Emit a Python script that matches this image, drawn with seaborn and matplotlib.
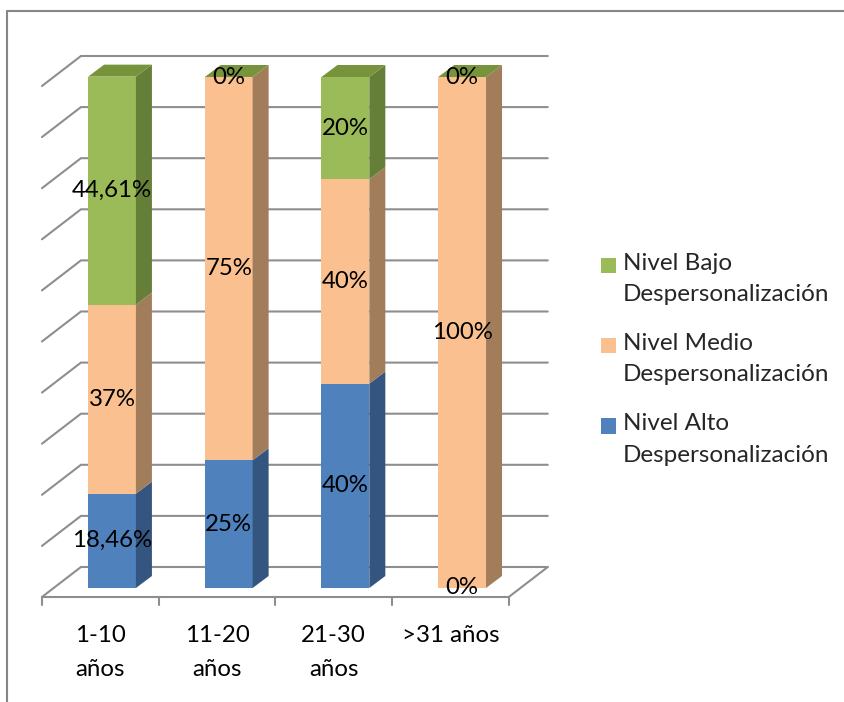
import matplotlib
matplotlib.use("Agg")
import matplotlib.pyplot as plt
from matplotlib.patches import Polygon, Rectangle, Patch
from matplotlib.lines import Line2D
from matplotlib.legend_handler import HandlerBase
import numpy as np
import pandas as pd
import seaborn as sns

# ---- data -------------------------------------------------------------
categories = ["1-10\naños", "11-20\naños", "21-30\naños", ">31 años"]
nivel_alto = [18.46, 25, 40, 0]
nivel_medio = [37, 75, 40, 100]
nivel_bajo = [44.61, 0, 20, 0]
series_names = ["Nivel Alto\nDespersonalización",
                "Nivel Medio\nDespersonalización",
                "Nivel Bajo\nDespersonalización"]
series_values = [nivel_alto, nivel_medio, nivel_bajo]

# ---- style ------------------------------------------------------------
front_col = ["#4F81BD", "#FAC090", "#9BBB59"]
side_col = ["#34557F", "#A27D5C", "#657F38"]
top_col = "#77933C"
grid_col = "#8E8E8E"
label_fs = 17.3

sns.set_theme(style="white")
plt.rcParams["font.family"] = ["Lato", "DejaVu Sans"]

# pixel scale of the data axes (px per unit)
XS, YS = 116.7, 5.11
W_PX, H_PX = 845, 702
X0_PX, Y0_PX = 112, 588          # pixel of category 0, value 0 (front plane)

# depth offsets (data units)
BAR_DX, BAR_DY = 16 / XS, 12 / YS          # bar side/top depth
FLOOR_FRONT = (-11.7 / XS, -9 / YS)        # floor front edge from bar plane
FLOOR_DEPTH = (39 / XS, 30 / YS)           # floor front -> back wall

fig = plt.figure(figsize=(W_PX / 100, H_PX / 100), dpi=100)
ax = fig.add_axes([0, 0, 1, 1])

df = pd.DataFrame({
    "cat": categories * 3,
    "serie": np.repeat(series_names, len(categories)),
    "valor": np.concatenate(series_values),
})
df["top"] = df.groupby("cat", sort=False)["valor"].cumsum()
df["base"] = df["top"] - df["valor"]

# front faces: cumulative bars drawn from the top series down
bar_x = None
for i in reversed(range(len(series_names))):
    sub = df[df.serie == series_names[i]]
    n_before = len(ax.patches)
    sns.barplot(data=sub, x="cat", y="top", order=categories, color=front_col[i],
                saturation=1, width=0.41, errorbar=None, linewidth=0, ax=ax, zorder=3)
    if bar_x is None:
        bar_x = [(p.get_x(), p.get_x() + p.get_width()) for p in ax.patches[n_before:]]

# side faces of every segment and the top face of each column
for i, name in enumerate(series_names):
    sub = df[df.serie == name].reset_index(drop=True)
    for k, row in sub.iterrows():
        xl, xr = bar_x[k]
        b, t = row["base"], row["top"]
        ax.add_patch(Polygon([(xr, b), (xr + BAR_DX, b + BAR_DY), (xr + BAR_DX, t + BAR_DY), (xr, t)],
                             closed=True, facecolor=side_col[i], edgecolor="none", zorder=3))
totals = df.groupby("cat", sort=False)["top"].max().reindex(categories).values
for k, T in enumerate(totals):
    xl, xr = bar_x[k]
    ax.add_patch(Polygon([(xl, T), (xl + BAR_DX, T + BAR_DY), (xr + BAR_DX, T + BAR_DY), (xr, T)],
                         closed=True, facecolor=top_col, edgecolor="none", zorder=3))

# walls: back gridlines, left diagonals, floor
n = len(categories)
fx0 = -0.5 + FLOOR_FRONT[0]
fx1 = n - 0.5 + FLOOR_FRONT[0]
fy = FLOOR_FRONT[1]
bx0, bx1 = fx0 + FLOOR_DEPTH[0], fx1 + FLOOR_DEPTH[0]
by = fy + FLOOR_DEPTH[1]
for g in range(0, 101, 10):
    ax.plot([fx0, bx0, bx1], [fy + g, by + g, by + g], color=grid_col, lw=1.5,
            solid_joinstyle="miter", zorder=1)
ax.plot([fx0, fx1, bx1], [fy, fy, by], color=grid_col, lw=1.5, zorder=2,
        solid_joinstyle="miter")
for k in range(n + 1):
    ax.plot([fx0 + k, fx0 + k], [fy, fy - 8 / YS], color=grid_col, lw=1.5, zorder=2)

# category labels under the floor
for k, cat in enumerate(categories):
    ax.text(k + FLOOR_FRONT[0], fy - 28 / YS, cat, ha="center", va="top",
            fontsize=label_fs, color="black", linespacing=1.75)

# value labels centered on each segment
def fmt(v):
    return ("%g" % v).replace(".", ",") + "%"

for i, name in enumerate(series_names):
    sub = df[df.serie == name].reset_index(drop=True)
    for k, row in sub.iterrows():
        ax.text(k, (row["base"] + row["top"]) / 2, fmt(row["valor"]), ha="center",
                va="center", fontsize=label_fs, color="black", zorder=5)

ax.set_xlim((0 - X0_PX) / XS, (W_PX - X0_PX) / XS)
ax.set_ylim((Y0_PX - H_PX) / YS, Y0_PX / YS)
ax.axis("off")


# legend with the colour square beside the first text line
class FirstLineSquare(HandlerBase):
    def __init__(self, lift):
        super().__init__()
        self.lift = lift

    def create_artists(self, legend, orig_handle, xdescent, ydescent, width, height,
                       fontsize, trans):
        r = Rectangle((-xdescent, -ydescent + self.lift), width, height,
                      facecolor=orig_handle.get_facecolor(), edgecolor="none",
                      transform=trans)
        return [r]


leg_fs = 17.5
fs_px = leg_fs * 100 / 72
handles = [Patch(facecolor=front_col[i]) for i in reversed(range(3))]
labels = [series_names[i] for i in reversed(range(3))]
hmap = {h: FirstLineSquare(lift=9.8) for h in handles}
leg = fig.legend(handles, labels, loc="upper left",
                 bbox_to_anchor=(601 / W_PX, 1 - 253 / H_PX), frameon=False,
                 fontsize=leg_fs, handlelength=15 / fs_px, handleheight=15 / fs_px,
                 handletextpad=7 / fs_px, labelspacing=1.15, borderpad=0,
                 borderaxespad=0, handler_map=hmap)
for t in leg.get_texts():
    t.set_linespacing(1.6)

# chart border (open to the right and bottom)
fig.add_artist(Line2D([7 / W_PX, 1.0], [1 - 11 / H_PX, 1 - 11 / H_PX],
                      transform=fig.transFigure, color="#868686", lw=1.5))
fig.add_artist(Line2D([7 / W_PX, 7 / W_PX], [0, 1 - 11 / H_PX],
                      transform=fig.transFigure, color="#868686", lw=1.5))

fig.savefig("out.png", dpi=100)
